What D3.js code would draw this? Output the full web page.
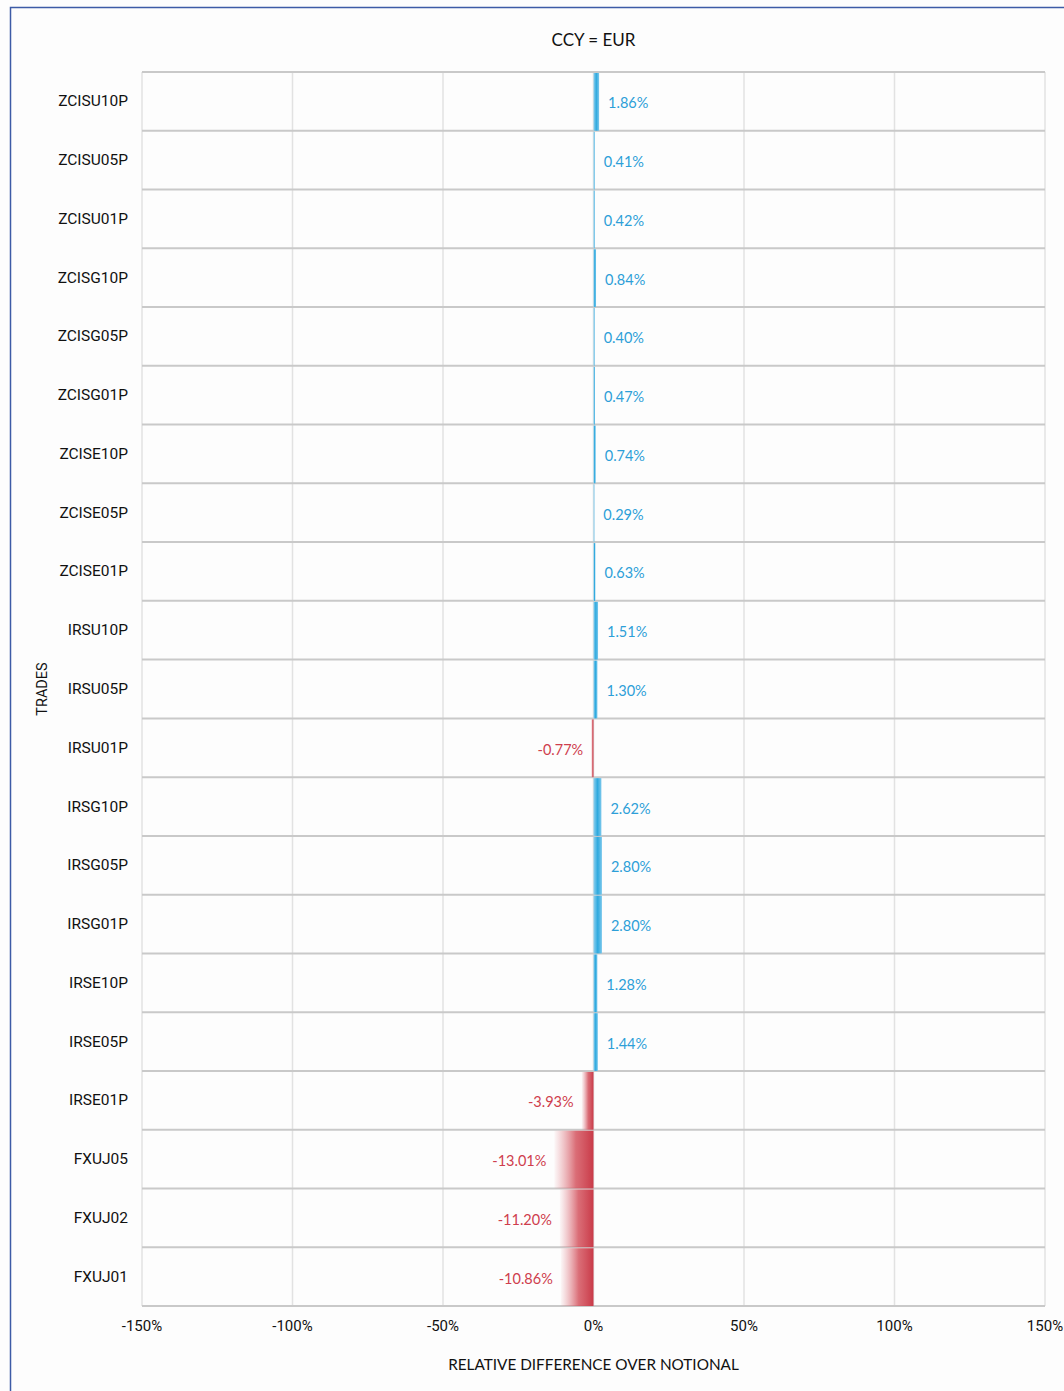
<!DOCTYPE html>
<html>
<head>
<meta charset="utf-8">
<script src="https://cdn.jsdelivr.net/npm/d3@7"></script>
<style>
  html, body { margin: 0; padding: 0; background: #ffffff; }
  svg { display: block; }
</style>
</head>
<body>
<svg id="chart" width="1064" height="1391"></svg>
<script>
// Trades, top to bottom
const trades = ["ZCISU10P","ZCISU05P","ZCISU01P","ZCISG10P","ZCISG05P","ZCISG01P",
  "ZCISE10P","ZCISE05P","ZCISE01P","IRSU10P","IRSU05P","IRSU01P","IRSG10P","IRSG05P",
  "IRSG01P","IRSE10P","IRSE05P","IRSE01P","FXUJ05","FXUJ02","FXUJ01"];
// Relative difference over notional, in percent
const relDiff = [1.86, 0.41, 0.42, 0.84, 0.40, 0.47, 0.74, 0.29, 0.63, 1.51, 1.30, -0.77,
  2.62, 2.80, 2.80, 1.28, 1.44, -3.93, -13.01, -11.20, -10.86];
const xTicks = [-150, -100, -50, 0, 50, 100, 150];

const svg = d3.select("#chart");
const W = 1064, H = 1391;
const m = { left: 142, right: 1045, top: 72, bottom: 1306 };

// frame
svg.append("rect").attr("x", 0).attr("y", 0).attr("width", W).attr("height", H).attr("fill", "#fdfdfd");
svg.append("path").attr("d", `M10.5,${H} V7.5 H${W}`).attr("fill", "none")
  .attr("stroke", "#3d5ba6").attr("stroke-width", 1.5);

const x = d3.scaleLinear().domain([-150, 150]).range([m.left, m.right]);
const y = d3.scaleBand().domain(trades).range([m.top, m.bottom]).padding(0);

const defs = svg.append("defs");
const gPos = defs.append("linearGradient").attr("id", "gradPos").attr("x1", 0).attr("x2", 1).attr("y1", 0).attr("y2", 0);
gPos.append("stop").attr("offset", "0%").attr("stop-color", "#8fd0ee");
gPos.append("stop").attr("offset", "50%").attr("stop-color", "#2ea9de");
gPos.append("stop").attr("offset", "100%").attr("stop-color", "#7cc8ec");
const gNeg = defs.append("linearGradient").attr("id", "gradNeg").attr("x1", 1).attr("x2", 0).attr("y1", 0).attr("y2", 0);
gNeg.append("stop").attr("offset", "0%").attr("stop-color", "#c93a48").attr("stop-opacity", 1);
gNeg.append("stop").attr("offset", "45%").attr("stop-color", "#d4545f").attr("stop-opacity", 0.85);
gNeg.append("stop").attr("offset", "100%").attr("stop-color", "#e07f88").attr("stop-opacity", 0.05);

// vertical grid
svg.append("g").selectAll("line").data(xTicks).join("line")
  .attr("x1", d => x(d)).attr("x2", d => x(d))
  .attr("y1", m.top).attr("y2", m.bottom)
  .attr("stroke", "#e2e2e2").attr("stroke-width", 1.5);

// horizontal row lines
const rowEdges = trades.map(t => y(t)).concat([m.bottom]);
svg.append("g").selectAll("line").data(rowEdges).join("line")
  .attr("x1", m.left).attr("x2", m.right)
  .attr("y1", d => d).attr("y2", d => d)
  .attr("stroke", "#c9c9c9").attr("stroke-width", 2);

const rows = trades.map((t, i) => ({ t, v: relDiff[i] }));

// bars
svg.append("g").selectAll("rect").data(rows).join("rect")
  .attr("x", d => Math.min(x(0), x(d.v)))
  .attr("y", d => y(d.t) + 1)
  .attr("width", d => Math.max(1, Math.abs(x(d.v) - x(0))))
  .attr("height", y.bandwidth() - 1)
  .attr("fill", d => d.v >= 0 ? "url(#gradPos)" : "url(#gradNeg)");

// value labels
svg.append("g").selectAll("text").data(rows).join("text")
  .attr("x", d => d.v >= 0 ? x(d.v) + 9 : x(d.v) - 8)
  .attr("y", d => y(d.t) + y.bandwidth() / 2 + 7)
  .attr("text-anchor", d => d.v >= 0 ? "start" : "end")
  .attr("font-family", "Lato, 'Noto Sans', sans-serif")
  .attr("font-size", 14.5)
  .attr("fill", d => d.v >= 0 ? "#2d9fd8" : "#cf3e4d")
  .text(d => d.v.toFixed(2) + "%");

// category labels
svg.append("g").selectAll("text").data(trades).join("text")
  .attr("x", 128)
  .attr("y", d => y(d) + y.bandwidth() / 2 + 5)
  .attr("text-anchor", "end")
  .attr("font-family", "Roboto, 'Noto Sans', sans-serif")
  .attr("font-size", 15.5)
  .attr("fill", "#111")
  .text(d => d);

// x tick labels
svg.append("g").selectAll("text").data(xTicks).join("text")
  .attr("x", d => x(d))
  .attr("y", 1331)
  .attr("text-anchor", "middle")
  .attr("font-family", "Roboto, 'Noto Sans', sans-serif")
  .attr("font-size", 15)
  .attr("fill", "#111")
  .text(d => d + "%");

// titles
svg.append("text").attr("x", x(0)).attr("y", 46).attr("text-anchor", "middle")
  .attr("font-family", "Lato, 'Noto Sans', sans-serif").attr("font-size", 17).attr("fill", "#111")
  .text("CCY = EUR");
svg.append("text").attr("x", x(0)).attr("y", 1370).attr("text-anchor", "middle")
  .attr("font-family", "Lato, 'Noto Sans', sans-serif").attr("font-size", 15.3).attr("fill", "#111")
  .text("RELATIVE DIFFERENCE OVER NOTIONAL");
svg.append("text")
  .attr("transform", `translate(47,${(m.top + m.bottom) / 2}) rotate(-90)`)
  .attr("text-anchor", "middle")
  .attr("font-family", "Roboto, 'Noto Sans', sans-serif").attr("font-size", 14.5).attr("fill", "#111")
  .text("TRADES");
</script>
</body>
</html>
